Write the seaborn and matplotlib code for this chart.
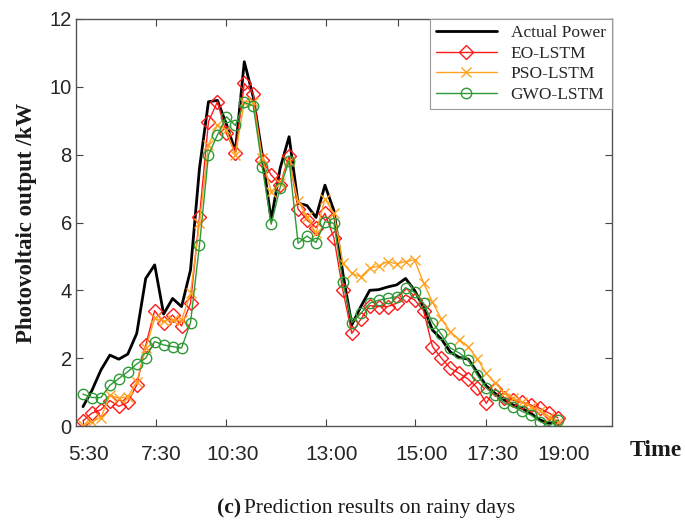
"""
Prediction results on rainy days: actual PV output vs EO/PSO/GWO-LSTM forecasts.
"""

import numpy as np
import pandas as pd
import matplotlib
matplotlib.use("Agg")
import matplotlib.pyplot as plt
import matplotlib.transforms as mtransforms
import seaborn as sns

# sample index (one point per step from 5:30 to 19:00)
steps = np.arange(54)

actual_power = [0.57, 1.05, 1.65, 2.09, 1.97, 2.12, 2.73, 4.35, 4.75, 3.30,
                3.76, 3.52, 4.60, 7.60, 9.56, 9.60, 8.90, 8.10, 10.74, 9.70,
                8.00, 6.07, 7.60, 8.53, 6.57, 6.50, 6.15, 7.10, 6.35, 4.50,
                2.98, 3.52, 4.00, 4.02, 4.10, 4.16, 4.35, 4.00, 3.50, 2.83,
                2.56, 2.18, 2.02, 1.97, 1.58, 1.18, 0.96, 0.77, 0.62, 0.52,
                0.37, 0.18, 0.08, 0.13]

eo_lstm = [0.15, 0.38, 0.48, 0.75, 0.58, 0.70, 1.21, 2.38, 3.40, 3.05,
           3.27, 2.95, 3.62, 6.17, 8.97, 9.56, 8.63, 8.06, 10.10, 9.80,
           7.85, 7.40, 7.12, 7.95, 6.40, 6.07, 5.85, 6.27, 5.55, 4.00,
           2.73, 3.15, 3.55, 3.52, 3.52, 3.62, 3.86, 3.72, 3.40, 2.34,
           2.00, 1.70, 1.55, 1.38, 1.12, 0.67, 1.10, 0.84, 0.76, 0.70,
           0.62, 0.52, 0.38, 0.24]

pso_lstm = [0.03, 0.13, 0.25, 0.91, 0.82, 0.86, 1.30, 2.30, 3.17, 3.10,
            3.12, 3.12, 3.91, 5.98, 8.29, 8.87, 8.73, 7.99, 9.56, 9.56,
            7.90, 6.91, 7.15, 7.80, 6.63, 6.17, 5.68, 6.70, 6.27, 4.80,
            4.50, 4.40, 4.65, 4.72, 4.85, 4.78, 4.85, 4.90, 4.22, 3.65,
            3.15, 2.78, 2.54, 2.34, 1.98, 1.55, 1.28, 0.98, 0.82, 0.70,
            0.57, 0.45, 0.28, 0.12]

gwo_lstm = [0.94, 0.84, 0.84, 1.20, 1.40, 1.60, 1.83, 2.00, 2.49, 2.39,
            2.34, 2.30, 3.05, 5.34, 7.99, 8.58, 9.12, 8.86, 9.54, 9.44,
            7.65, 5.95, 7.03, 7.82, 5.39, 5.60, 5.41, 6.02, 5.98, 4.24,
            3.05, 3.32, 3.62, 3.71, 3.76, 3.81, 4.08, 3.94, 3.62, 3.05,
            2.70, 2.30, 2.15, 1.95, 1.50, 1.12, 0.91, 0.68, 0.57, 0.43,
            0.32, 0.13, 0.00, 0.18]

time_ticks = [0, 8.1, 16, 27.1, 37.1, 45, 53]
time_labels = ['5:30', '7:30', '10:30', '13:00', '15:00', '17:30', '19:00']
top_ticks = [8.1, 16, 27.1, 35.2, 42.6, 50.6]
y_ticks = [0, 2, 4, 6, 8, 10, 12]

sns.set_theme(style="ticks")
plt.rcParams['font.family'] = ['Liberation Sans', 'DejaVu Sans']

SERIF = ['Liberation Serif', 'DejaVu Serif']
TEXT_GRAY = '#262626'

fig = plt.figure(figsize=(6.85, 5.22), dpi=100)
ax = fig.add_axes([76 / 685, 96 / 522, (611.7 - 76) / 685, (426 - 19) / 522])

df = pd.DataFrame({'step': steps, 'Actual Power': actual_power,
                   'EO-LSTM': eo_lstm, 'PSO-LSTM': pso_lstm, 'GWO-LSTM': gwo_lstm})

sns.lineplot(data=df, x='step', y='Actual Power', ax=ax, color='black',
             linewidth=2.0, label='Actual Power', errorbar=None)
sns.lineplot(data=df, x='step', y='EO-LSTM', ax=ax, color='#ff1a1a', linewidth=1.0,
             marker='D', markersize=7, markerfacecolor='none',
             markeredgecolor='#ff1a1a', markeredgewidth=1.0, label='EO-LSTM', errorbar=None)
sns.lineplot(data=df, x='step', y='PSO-LSTM', ax=ax, color='#ffa21f', linewidth=1.0,
             marker='x', markersize=6.5, markeredgecolor='#ffa21f',
             markeredgewidth=1.0, label='PSO-LSTM', errorbar=None)
sns.lineplot(data=df, x='step', y='GWO-LSTM', ax=ax, color='#2f9a35', linewidth=1.0,
             marker='o', markersize=7.5, markerfacecolor='none',
             markeredgecolor='#2f9a35', markeredgewidth=1.0, label='GWO-LSTM', errorbar=None)

ax.set_xlim(-0.78, 59.0)
ax.set_ylim(0, 12)
ax.set_xticks(time_ticks)
ax.set_xticklabels(time_labels)
ax.set_yticks(y_ticks)
ax.set_xlabel('')
ax.set_ylabel('Photovoltaic output /kW', fontsize=16.5, fontweight='bold',
              family=SERIF, color='#1a1a1a', labelpad=9)

ax.tick_params(axis='x', direction='in', length=5, width=0.8, colors='#444444',
               labelcolor=TEXT_GRAY, labelsize=15, pad=13.5)
ax.tick_params(axis='y', direction='in', length=5, width=0.8, colors='#444444',
               labelcolor=TEXT_GRAY, labelsize=14.5, pad=3, right=True)

# labels in the source sit a few pixels right of the tick marks
shift = mtransforms.ScaledTranslation(6 / 100, 0, fig.dpi_scale_trans)
for lbl in ax.get_xticklabels():
    lbl.set_transform(lbl.get_transform() + shift)

top = ax.secondary_xaxis('top')
top.set_xticks(top_ticks)
top.set_xticklabels([])
top.tick_params(direction='in', length=5, width=0.8, colors='#444444')

for side in ['left', 'right', 'top', 'bottom']:
    ax.spines[side].set_visible(True)
    ax.spines[side].set_color('#555555')
    ax.spines[side].set_linewidth(1.0)
top.spines['top'].set_visible(False)

leg = ax.legend(loc='upper right', borderaxespad=0, fancybox=False,
                edgecolor='#9a9a9a', framealpha=1, handlelength=3.5,
                handletextpad=0.8, labelspacing=0.25, borderpad=0.35,
                prop={'family': SERIF, 'size': 12.5})
leg.get_frame().set_linewidth(0.8)

fig.text(656 / 685, 1 - 450 / 522, 'Time', ha='center', va='center',
         fontsize=17, fontweight='bold', family=SERIF, color='#1a1a1a')

fig.text(217 / 685, 1 - 508 / 522, '(c)', ha='left', va='center',
         fontsize=15.5, fontweight='bold', family=SERIF, color='#1a1a1a')
fig.text(244 / 685, 1 - 508 / 522, 'Prediction results on rainy days', ha='left',
         va='center', fontsize=15.5, family=SERIF, color='#1a1a1a')

fig.savefig('out.png', dpi=100)
